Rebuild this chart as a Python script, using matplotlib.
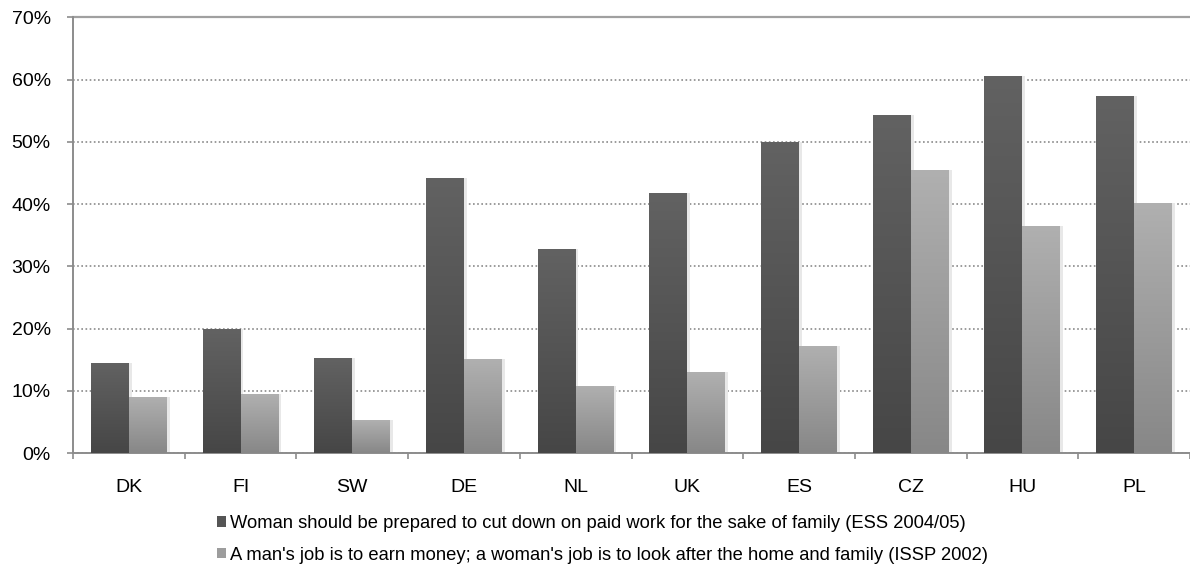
import matplotlib
matplotlib.use("Agg")
import matplotlib.pyplot as plt
from matplotlib.patches import Patch
from matplotlib.ticker import PercentFormatter
import numpy as np

# Values (percent)
countries = ["DK", "FI", "SW", "DE", "NL", "UK", "ES", "CZ", "HU", "PL"]
ess_values = [14.5, 19.9, 15.2, 44.2, 32.8, 41.8, 50.0, 54.3, 60.6, 57.4]
issp_values = [9.0, 9.4, 5.3, 15.1, 10.8, 13.0, 17.2, 45.5, 36.5, 40.2]
ess_label = "Woman should be prepared to cut down on paid work for the sake of family (ESS 2004/05)"
issp_label = "A man's job is to earn money; a woman's job is to look after the home and family (ISSP 2002)"

plt.rcParams["font.family"] = ["Liberation Sans", "DejaVu Sans"]

fig = plt.figure(figsize=(11.9, 5.67), dpi=100)
ax = fig.add_axes([73 / 1190, 1 - 453 / 567, 1 - 73 / 1190, (453 - 17.3) / 567])

x = np.arange(len(countries))
width = 0.34

def gradient_bars(bars, top, bottom):
    # fill each bar with a vertical grey gradient (darker at the bottom)
    grad = np.linspace(0, 1, 256).reshape(-1, 1)
    cmap = matplotlib.colors.LinearSegmentedColormap.from_list("g", [bottom, top])
    for b in bars:
        x0, y0 = b.get_x(), b.get_y()
        w, h = b.get_width(), b.get_height()
        # faint shadow on the right side
        ax.bar(x0 + w, h, 0.025, bottom=y0, align="edge",
               color="#e8e8e8", zorder=2, linewidth=0)
        im = ax.imshow(grad, extent=[x0, x0 + w, y0, y0 + h], aspect="auto",
                       cmap=cmap, origin="lower", zorder=3)
        im.set_clip_path(b)
        b.set_facecolor("none")

bars1 = ax.bar(x - width / 2, ess_values, width, color="#555555", zorder=3, linewidth=0)
bars2 = ax.bar(x + width / 2, issp_values, width, color="#9d9d9d", zorder=3, linewidth=0)
gradient_bars(bars1, "#626262", "#464646")
gradient_bars(bars2, "#b0b0b0", "#878787")

ax.set_xlim(-0.5, len(countries) - 0.5)
ax.set_ylim(0, 70)
ax.set_yticks(np.arange(0, 71, 10))
ax.yaxis.set_major_formatter(PercentFormatter(decimals=0))
ax.set_xticks(x)
ax.set_xticklabels(countries)
ax.set_xticks(np.arange(-0.5, len(countries), 1), minor=True)

ax.grid(axis="y", linestyle=(0, (1, 1.5)), color="#8a8a8a", linewidth=1.2, zorder=1)
ax.axhline(70, color="#a0a0a0", linewidth=1.6, zorder=1, clip_on=False)
ax.set_axisbelow(True)

for side in ["top", "right"]:
    ax.spines[side].set_visible(False)
for side in ["left", "bottom"]:
    ax.spines[side].set_color("#8c8c8c")
    ax.spines[side].set_linewidth(1.4)

ax.tick_params(axis="y", length=4, width=1.2, color="#8c8c8c", pad=12, labelsize=14)
ax.tick_params(axis="x", which="major", length=0, pad=19, labelsize=14)
ax.tick_params(axis="x", which="minor", length=4, width=1.2, color="#8c8c8c")

handles = [Patch(facecolor="#555555", label=ess_label),
           Patch(facecolor="#9d9d9d", label=issp_label)]
fig.legend(handles=handles, loc="upper left", bbox_to_anchor=(217 / 1190, 1 - 515 / 567),
           frameon=False, fontsize=13.2, handlelength=0.5, handleheight=0.5,
           handletextpad=0.2, labelspacing=0.8, borderaxespad=0, borderpad=0)

fig.savefig("out.png", dpi=100)
